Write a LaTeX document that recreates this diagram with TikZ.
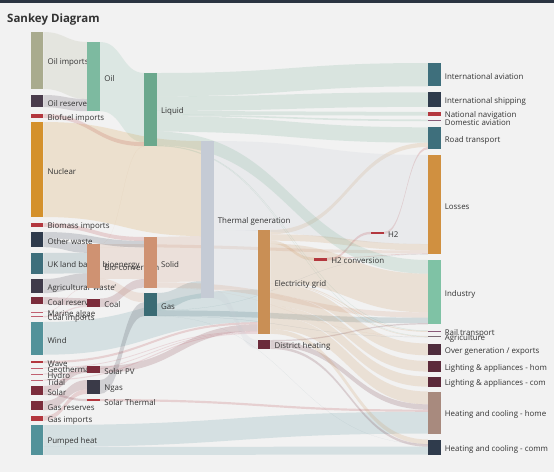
\documentclass[tikz,border=0pt]{standalone}
\usepackage{fontspec}
\setmainfont{Open Sans}
\definecolor{cBg}{HTML}{F2F2F2}
\definecolor{cTop}{HTML}{2B3442}
\definecolor{cText}{HTML}{333333}
\definecolor{cOilImp}{HTML}{A9AB8E}
\definecolor{cOilRes}{HTML}{4A3C4C}
\definecolor{cRed}{HTML}{B3373E}
\definecolor{cPink}{HTML}{C06070}
\definecolor{cNuclear}{HTML}{D4912C}
\definecolor{cNavy}{HTML}{2F3B4C}
\definecolor{cTeal}{HTML}{3E6F7C}
\definecolor{cAgri}{HTML}{3F3B4A}
\definecolor{cDarkRed}{HTML}{7B2C3B}
\definecolor{cWind}{HTML}{52929A}
\definecolor{cOil}{HTML}{7DBAA0}
\definecolor{cBio}{HTML}{CF9272}
\definecolor{cNgas}{HTML}{3A3A48}
\definecolor{cLiquid}{HTML}{6BA88D}
\definecolor{cGas}{HTML}{3A6B74}
\definecolor{cThermal}{HTML}{C5CBD5}
\definecolor{cElec}{HTML}{C98F55}
\definecolor{cDHeat}{HTML}{6B2B3B}
\definecolor{cMauve}{HTML}{8A5A78}
\definecolor{cLosses}{HTML}{D09040}
\definecolor{cIndustry}{HTML}{7FC2A5}
\definecolor{cGrayL}{HTML}{7A6A72}
\definecolor{cOverGen}{HTML}{4E2C3C}
\definecolor{cLight}{HTML}{5C2A3A}
\definecolor{cHeatHome}{HTML}{A88A7E}
\def\skk{0.1131}
\makeatletter
\newcommand\sknode[5]{%
  \pgfmathsetmacro\sk@x{30.7+56.75*#2}%
  \expandafter\xdef\csname skx@#1\endcsname{\sk@x}%
  \expandafter\xdef\csname sky@#1\endcsname{#3}%
  \pgfmathsetmacro\sk@h{max(1,#4*\skk)}%
  \expandafter\xdef\csname skh@#1\endcsname{\sk@h}%
  \expandafter\xdef\csname sko@#1\endcsname{0}%
  \expandafter\xdef\csname ski@#1\endcsname{0}%
  \expandafter\xdef\csname skc@#1\endcsname{#5}%
}
\newcommand\skflow[3]{%
  \pgfmathsetmacro\sk@w{#3*\skk}%
  \pgfmathsetmacro\sk@xa{\csname skx@#1\endcsname+12.7}%
  \pgfmathsetmacro\sk@ya{\csname sky@#1\endcsname+\csname sko@#1\endcsname}%
  \pgfmathsetmacro\sk@yaa{\sk@ya+\sk@w}%
  \pgfmathsetmacro\sk@xb{\csname skx@#2\endcsname}%
  \pgfmathsetmacro\sk@yb{\csname sky@#2\endcsname+\csname ski@#2\endcsname}%
  \pgfmathsetmacro\sk@ybb{\sk@yb+\sk@w}%
  \pgfmathsetmacro\sk@xm{(\sk@xa+\sk@xb)/2}%
  \edef\sk@col{\csname skc@#1\endcsname}%
  \fill[fill=\sk@col, skflowstyle] (\sk@xa,\sk@ya) .. controls (\sk@xm,\sk@ya) and (\sk@xm,\sk@yb) .. (\sk@xb,\sk@yb) -- (\sk@xb,\sk@ybb) .. controls (\sk@xm,\sk@ybb) and (\sk@xm,\sk@yaa) .. (\sk@xa,\sk@yaa) -- cycle;
  \pgfmathsetmacro\sk@t{\csname sko@#1\endcsname+\sk@w}%
  \expandafter\xdef\csname sko@#1\endcsname{\sk@t}%
  \pgfmathsetmacro\sk@t{\csname ski@#2\endcsname+\sk@w}%
  \expandafter\xdef\csname ski@#2\endcsname{\sk@t}%
}
\newcommand\skbar[1]{%
  \edef\sk@col{\csname skc@#1\endcsname}%
  \edef\sk@h{\csname skh@#1\endcsname}%
  \edef\sk@bx{\csname skx@#1\endcsname}%
  \edef\sk@by{\csname sky@#1\endcsname}%
  \node[skbarstyle, fill=\sk@col, minimum height=\sk@h pt, anchor=north west] (#1) at (\sk@bx,\sk@by) {};%
}
\newcommand\sklabel[2]{%
  \pgfmathsetmacro\sk@lx{\csname skx@#1\endcsname+16.7}%
  \pgfmathsetmacro\sk@ly{\csname sky@#1\endcsname+\csname skh@#1\endcsname/2+2}%
  \node[sklbl] (#1-label) at (\sk@lx,\sk@ly) {#2};%
}
\makeatother
\tikzset{
  skflowstyle/.style={fill opacity=0.18},
  skbarstyle/.style={rectangle, inner sep=0pt, outer sep=0pt, minimum width=12.7pt, draw=none},
  sklbl/.style={anchor=west, inner sep=0pt, text=cText, font=\fontsize{7.9}{8}\selectfont},
}
\begin{document}
\begin{tikzpicture}[x=1pt, y=-1pt]
\fill[cBg] (0,0) rectangle (554,472);
\useasboundingbox (0,0) rectangle (554,472);
\fill[cTop] (0,0) rectangle (554,2.5);
\node[anchor=base west, inner sep=0pt, text=cText, font=\bfseries\fontsize{11.5}{12}\selectfont] (title) at (7,22.5) {Sankey Diagram};
% nodes: id, column, top, value, colour
\sknode{oilimp}{0}{32}{504.287}{cOilImp}
\sknode{oilres}{0}{95}{107.703}{cOilRes}
\sknode{biofuel}{0}{114}{35}{cRed}
\sknode{nuclear}{0}{122}{839.978}{cNuclear}
\sknode{biomass}{0}{223}{35}{cRed}
\sknode{otherw}{0}{232}{134.397}{cNavy}
\sknode{ukland}{0}{253}{182.01}{cTeal}
\sknode{agri}{0}{279}{124.729}{cAgri}
\sknode{coalres}{0}{297}{63.965}{cDarkRed}
\sknode{marine}{0}{311.5}{4.375}{cPink}
\sknode{coalimp}{0}{316}{11.606}{cPink}
\sknode{wind}{0}{322}{289.366}{cWind}
\sknode{wave}{0}{361}{19.013}{cRed}
\sknode{geo}{0}{367.5}{7.013}{cPink}
\sknode{hydro}{0}{373.5}{6.995}{cPink}
\sknode{tidal}{0}{379.5}{9.452}{cPink}
\sknode{solar}{0}{386}{79.164}{cDarkRed}
\sknode{gasres}{0}{401}{82.233}{cDarkRed}
\sknode{gasimp}{0}{416}{40.719}{cRed}
\sknode{pumped}{0}{425}{263.698}{cWind}
\sknode{oil}{1}{42}{611.99}{cOil}
\sknode{bioconv}{1}{244}{388.924}{cBio}
\sknode{coal}{1}{298.5}{75.571}{cDarkRed}
\sknode{solarpv}{1}{366}{59.901}{cDarkRed}
\sknode{ngas}{1}{380}{122.952}{cNgas}
\sknode{solarth}{1}{399}{19.263}{cRed}
\sknode{liquid}{2}{73}{647.587}{cLiquid}
\sknode{solid}{2}{237}{447.48}{cBio}
\sknode{gas}{2}{293}{204.096}{cGas}
\sknode{thermal}{3}{141}{1392}{cThermal}
\sknode{elec}{4}{230}{918.607}{cElec}
\sknode{dheat}{4}{340}{79.328}{cDHeat}
\sknode{h2conv}{5}{257.5}{27.14}{cRed}
\sknode{h2}{6}{231.8}{20.897}{cRed}
\sknode{intav}{7}{63}{206.267}{cTeal}
\sknode{ship}{7}{92.3}{128.69}{cNavy}
\sknode{natnav}{7}{112}{33.218}{cRed}
\sknode{domav}{7}{119.5}{14.458}{cMauve}
\sknode{road}{7}{127.3}{194.529}{cTeal}
\sknode{losses}{7}{155}{878.325}{cLosses}
\sknode{industry}{7}{260}{568.927}{cIndustry}
\sknode{rail}{7}{330.5}{12.276}{cMauve}
\sknode{agric}{7}{336}{11.03}{cGrayL}
\sknode{overgen}{7}{343.5}{104.453}{cOverGen}
\sknode{lighthome}{7}{361}{93.494}{cLight}
\sknode{lightcom}{7}{376.5}{90.008}{cLight}
\sknode{heathome}{7}{391.5}{372.199}{cHeatHome}
\sknode{heatcom}{7}{439.5}{134.164}{cNavy}
% flows
\skflow{oilimp}{oil}{504.287}
\skflow{oilres}{oil}{107.703}
\skflow{liquid}{intav}{206.267}
\skflow{oil}{liquid}{611.99}
\skflow{biofuel}{liquid}{35}
\skflow{bioconv}{liquid}{0.597}
\skflow{liquid}{ship}{128.69}
\skflow{liquid}{natnav}{33.218}
\skflow{liquid}{domav}{14.458}
\skflow{liquid}{road}{135.835}
\skflow{elec}{road}{37.797}
\skflow{h2}{road}{20.897}
\skflow{nuclear}{thermal}{839.978}
\skflow{solid}{thermal}{400.12}
\skflow{gas}{thermal}{151.891}
\skflow{thermal}{losses}{787.129}
\skflow{elec}{losses}{56.691}
\skflow{bioconv}{losses}{26.862}
\skflow{h2conv}{losses}{6.242}
\skflow{gas}{losses}{1.401}
\skflow{thermal}{elec}{525.531}
\skflow{wind}{elec}{289.366}
\skflow{wave}{elec}{19.013}
\skflow{solarpv}{elec}{59.901}
\skflow{geo}{elec}{7.013}
\skflow{hydro}{elec}{6.995}
\skflow{tidal}{elec}{9.452}
\skflow{h2conv}{h2}{20.897}
\skflow{biomass}{solid}{35}
\skflow{otherw}{solid}{56.587}
\skflow{bioconv}{solid}{280.322}
\skflow{coal}{solid}{75.571}
\skflow{otherw}{bioconv}{77.81}
\skflow{ukland}{bioconv}{182.01}
\skflow{agri}{bioconv}{124.729}
\skflow{marine}{bioconv}{4.375}
\skflow{elec}{h2conv}{27.14}
\skflow{liquid}{industry}{121.066}
\skflow{elec}{industry}{342.165}
\skflow{solid}{industry}{46.477}
\skflow{gas}{industry}{48.58}
\skflow{dheat}{industry}{10.639}
\skflow{bioconv}{gas}{81.144}
\skflow{ngas}{gas}{122.952}
\skflow{coalres}{coal}{63.965}
\skflow{coalimp}{coal}{11.606}
\skflow{liquid}{rail}{4.413}
\skflow{elec}{rail}{7.863}
\skflow{liquid}{agric}{3.64}
\skflow{elec}{agric}{4.412}
\skflow{solid}{agric}{0.882}
\skflow{gas}{agric}{2.096}
\skflow{thermal}{dheat}{79.328}
\skflow{elec}{overgen}{104.453}
\skflow{elec}{lighthome}{93.494}
\skflow{solar}{solarpv}{59.901}
\skflow{elec}{lightcom}{90.008}
\skflow{gasres}{ngas}{82.233}
\skflow{gasimp}{ngas}{40.719}
\skflow{elec}{heathome}{113.726}
\skflow{dheat}{heathome}{46.184}
\skflow{solarth}{heathome}{19.263}
\skflow{pumped}{heathome}{193.026}
\skflow{solar}{solarth}{19.263}
\skflow{elec}{heatcom}{40.858}
\skflow{gas}{heatcom}{0.129}
\skflow{dheat}{heatcom}{22.505}
\skflow{pumped}{heatcom}{70.672}
% labels
\sklabel{oilimp}{Oil imports}
\sklabel{oilres}{Oil reserves}
\sklabel{biofuel}{Biofuel imports}
\sklabel{nuclear}{Nuclear}
\sklabel{biomass}{Biomass imports}
\sklabel{otherw}{Other waste}
\sklabel{ukland}{UK land based bioenergy}
\sklabel{agri}{Agricultural 'waste'}
\sklabel{coalres}{Coal reserves}
\sklabel{marine}{Marine algae}
\sklabel{coalimp}{Coal imports}
\sklabel{wind}{Wind}
\sklabel{wave}{Wave}
\sklabel{geo}{Geothermal}
\sklabel{hydro}{Hydro}
\sklabel{tidal}{Tidal}
\sklabel{solar}{Solar}
\sklabel{gasres}{Gas reserves}
\sklabel{gasimp}{Gas imports}
\sklabel{pumped}{Pumped heat}
\sklabel{oil}{Oil}
\sklabel{bioconv}{Bio-conversion}
\sklabel{coal}{Coal}
\sklabel{solarpv}{Solar PV}
\sklabel{ngas}{Ngas}
\sklabel{solarth}{Solar Thermal}
\sklabel{liquid}{Liquid}
\sklabel{solid}{Solid}
\sklabel{gas}{Gas}
\sklabel{thermal}{Thermal generation}
\sklabel{elec}{Electricity grid}
\sklabel{dheat}{District heating}
\sklabel{h2conv}{H2 conversion}
\sklabel{h2}{H2}
\sklabel{intav}{International aviation}
\sklabel{ship}{International shipping}
\sklabel{natnav}{National navigation}
\sklabel{domav}{Domestic aviation}
\sklabel{road}{Road transport}
\sklabel{losses}{Losses}
\sklabel{industry}{Industry}
\sklabel{rail}{Rail transport}
\sklabel{agric}{Agriculture}
\sklabel{overgen}{Over generation / exports}
\sklabel{lighthome}{Lighting \& appliances - hom}
\sklabel{lightcom}{Lighting \& appliances - com}
\sklabel{heathome}{Heating and cooling - home}
\sklabel{heatcom}{Heating and cooling - comm}
% bars
\skbar{oilimp}\skbar{oilres}\skbar{biofuel}\skbar{nuclear}\skbar{biomass}
\skbar{otherw}\skbar{ukland}\skbar{agri}\skbar{coalres}\skbar{marine}
\skbar{coalimp}\skbar{wind}\skbar{wave}\skbar{geo}\skbar{hydro}\skbar{tidal}
\skbar{solar}\skbar{gasres}\skbar{gasimp}\skbar{pumped}
\skbar{oil}\skbar{bioconv}\skbar{coal}\skbar{solarpv}\skbar{ngas}\skbar{solarth}
\skbar{liquid}\skbar{solid}\skbar{gas}\skbar{thermal}\skbar{elec}\skbar{dheat}
\skbar{h2conv}\skbar{h2}
\skbar{intav}\skbar{ship}\skbar{natnav}\skbar{domav}\skbar{road}\skbar{losses}
\skbar{industry}\skbar{rail}\skbar{agric}\skbar{overgen}\skbar{lighthome}
\skbar{lightcom}\skbar{heathome}\skbar{heatcom}
\end{tikzpicture}
\end{document}
